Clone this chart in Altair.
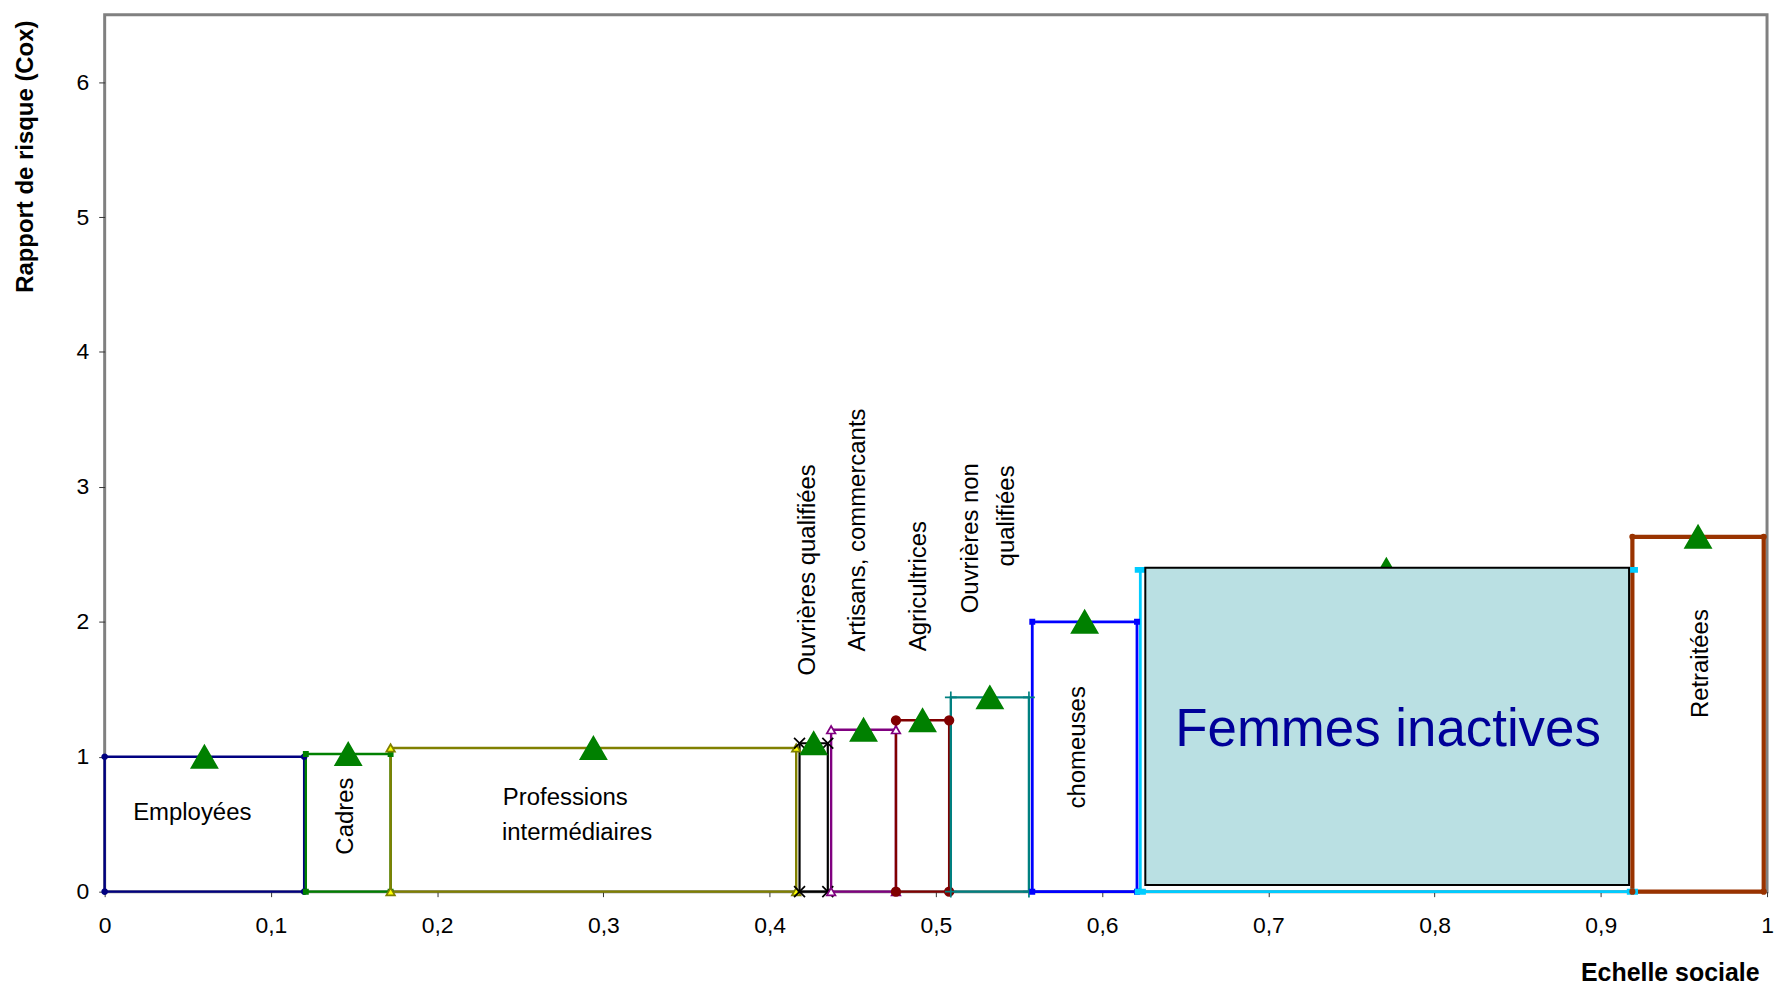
import altair as alt
import pandas as pd

# ---- data ----
categories = ["Employées", "Cadres", "Professions intermédiaires", "Ouvrières qualifiées",
              "Artisans, commercants", "Agricultrices", "Ouvrières non qualifiées",
              "chomeuses", "Femmes inactives", "Retraitées"]
x_start = [0.000, 0.121, 0.172, 0.418, 0.437, 0.476, 0.509, 0.558, 0.623, 0.919]
x_end   = [0.120, 0.172, 0.416, 0.435, 0.476, 0.508, 0.556, 0.621, 0.919, 0.998]
cox     = [1.00, 1.02, 1.065, 1.10, 1.20, 1.27, 1.44, 2.00, 2.385, 2.63]
x_ticks = [0, 0.1, 0.2, 0.3, 0.4, 0.5, 0.6, 0.7, 0.8, 0.9, 1.0]
y_ticks = [0, 1, 2, 3, 4, 5, 6]

# ---- styles ----
line_colors = ["#000080", "#008000", "#808000", "#000000", "#800080",
               "#800000", "#008080", "#0000FF", "#00CCFF", "#993300"]
line_widths = [2.4, 2.4, 2.4, 2.2, 2.4, 2.4, 2.4, 2.8, 2.8, 4.2]
marker_specs = [
    dict(shape="circle", size=25, filled=True, fill="#000080", stroke="#000080"),
    dict(shape="square", size=18, filled=True, fill="#008000", stroke="#008000"),
    dict(shape="triangle-up", size=75, filled=True, fill="#FFFF00", stroke="#808000"),
    dict(shape="M-1,-1L1,1M1,-1L-1,1", size=120, filled=False, fill="none", stroke="#000000"),
    dict(shape="triangle-up", size=75, filled=False, fill="#ffffff", stroke="#800080"),
    dict(shape="circle", size=75, filled=True, fill="#800000", stroke="#800000"),
    dict(shape="M-1,0L1,0M0,-1L0,1", size=140, filled=False, fill="none", stroke="#008080"),
    dict(shape="square", size=18, filled=True, fill="#0000FF", stroke="#0000FF"),
    dict(shape="M-1,-0.45L1,-0.45L1,0.45L-1,0.45Z", size=90, filled=True, fill="#00CCFF", stroke="#00CCFF"),
    dict(shape="circle", size=20, filled=True, fill="#993300", stroke="#993300"),
]

# ---- annotations ----
box_x = [0.626, 0.917]
box_y = [0.05, 2.40]
label_text = ["Employées", "Cadres", "Professions", "intermédiaires", "Ouvrières qualifiées",
              "Artisans, commercants", "Agricultrices", "Ouvrières non", "qualifiées",
              "chomeuses", "Retraitées"]
label_x = [0.0527, 0.145, 0.2395, 0.2390, 0.4234, 0.4533, 0.4898, 0.521, 0.543, 0.5856, 0.960]
label_y = [0.585, 0.56, 0.696, 0.437, 2.385, 2.68, 2.265, 2.62, 2.785, 1.07, 1.69]
label_angle = [0, 270, 0, 0, 270, 270, 270, 270, 270, 270, 270]
label_align = ["center", "center", "left", "left", "center", "center", "center",
               "center", "center", "center", "center"]

FONT = "Liberation Sans"

# outline polygons built from the category table
rows = []
for i, c in enumerate(categories):
    pts = [(x_start[i], 0), (x_start[i], cox[i]), (x_end[i], cox[i]), (x_end[i], 0), (x_start[i], 0)]
    for k, (px, py) in enumerate(pts):
        rows.append(dict(cat=c, order=k, x=px, y=py, w=line_widths[i]))
outline = pd.DataFrame(rows)

xs = alt.Scale(domain=[0, 1], nice=False, zero=False)
ys = alt.Scale(domain=[0, 6.5], nice=False)

x_axis = alt.Axis(values=x_ticks, grid=False, domain=False, tickSize=5, tickColor="#333333",
                  labelFont=FONT, labelFontSize=23, labelColor="#000000", labelPadding=18,
                  labelFlush=False,
                  labelExpr="datum.value == 0 ? '0' : datum.value == 1 ? '1' : replace(format(datum.value, '.1f'), '.', ',')",
                  title="Echelle sociale", titleFont=FONT, titleFontSize=25, titleFontWeight="bold",
                  titleColor="#000000", titleX=1660, titleY=81, titleAlign="right",
                  titleBaseline="middle", titleAnchor="end")
y_axis = alt.Axis(values=y_ticks, format="d", grid=False, domain=False, tickSize=6, tickColor="#333333",
                  labelFont=FONT, labelFontSize=23, labelColor="#000000", labelPadding=10,
                  title="Rapport de risque (Cox)", titleFont=FONT, titleFontSize=24,
                  titleFontWeight="bold", titleColor="#000000", titleX=-79, titleY=142,
                  titleAngle=270, titleAlign="center", titleBaseline="middle")

lines = alt.Chart(outline).mark_line(interpolate="linear", strokeJoin="miter").encode(
    x=alt.X("x:Q", scale=xs, axis=x_axis),
    y=alt.Y("y:Q", scale=ys, axis=y_axis),
    color=alt.Color("cat:N", scale=alt.Scale(domain=categories, range=line_colors), legend=None),
    strokeWidth=alt.StrokeWidth("w:Q", scale=None),
    detail="cat:N",
    order="order:Q",
)

layers = [lines]
for i, c in enumerate(categories):
    m = marker_specs[i]
    d = outline[(outline.cat == c) & (outline.order < 4)]
    kw = dict(shape=m["shape"], size=m["size"], filled=m["filled"], stroke=m["stroke"],
              strokeWidth=1.7, opacity=1)
    if m["fill"] != "none":
        kw["fill"] = m["fill"]
    layers.append(alt.Chart(d).mark_point(**kw).encode(x=alt.X("x:Q", scale=xs), y=alt.Y("y:Q", scale=ys)))

centers = pd.DataFrame(dict(cat=categories,
                            xc=[(a + b) / 2 for a, b in zip(x_start, x_end)],
                            y=cox))
tri = alt.Chart(centers).mark_point(shape="triangle-up", size=650, filled=True,
                                     fill="#008000", stroke="#008000", opacity=1).encode(
    x=alt.X("xc:Q", scale=xs), y=alt.Y("y:Q", scale=ys))
layers.append(tri)

box_df = pd.DataFrame(dict(x=[box_x[0]], x2=[box_x[1]], y=[box_y[0]], y2=[box_y[1]]))
box = alt.Chart(box_df).mark_rect(fill="#BAE0E3", stroke="#000000", strokeWidth=2).encode(
    x=alt.X("x:Q", scale=xs), x2="x2:Q", y=alt.Y("y:Q", scale=ys), y2="y2:Q")
layers.append(box)

big = pd.DataFrame(dict(t=["Femmes inactives"], x=[0.772], y=[1.081]))
layers.append(alt.Chart(big).mark_text(font=FONT, fontSize=53, color="#000099", align="center",
                                        baseline="alphabetic").encode(
    x=alt.X("x:Q", scale=xs), y=alt.Y("y:Q", scale=ys), text="t:N"))

labels = pd.DataFrame(dict(t=label_text, x=label_x, y=label_y, a=label_angle, al=label_align))
for ang in [0, 270]:
    for al in ["left", "center"]:
        sub = labels[(labels.a == ang) & (labels.al == al)]
        if len(sub) == 0:
            continue
        layers.append(alt.Chart(sub).mark_text(font=FONT, fontSize=24, color="#000000",
                                                align=al, baseline="middle", angle=ang).encode(
            x=alt.X("x:Q", scale=xs), y=alt.Y("y:Q", scale=ys), text="t:N"))

chart = alt.layer(*layers).properties(
    width=1668, height=880,
    autosize=alt.AutoSizeParams(type="none"),
    padding={"left": 97, "top": 5, "right": 10, "bottom": 96},
    background="#ffffff",
).configure_view(stroke="#808080", strokeWidth=3)

chart.save("out.html", embed_options={"renderer": "svg", "actions": False})
